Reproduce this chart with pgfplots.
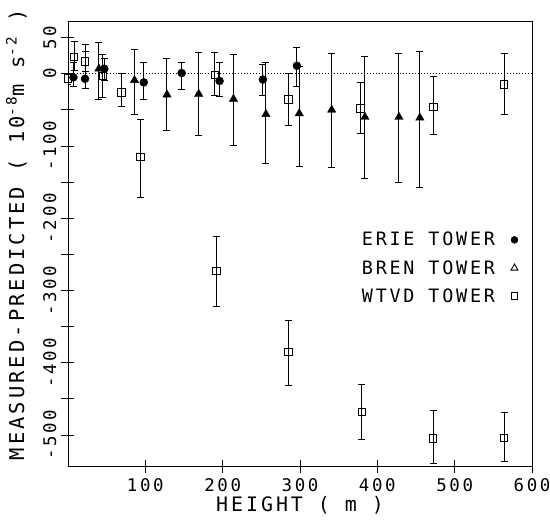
\documentclass[border=0pt]{standalone}
\usepackage{fontspec}
\setmainfont[LetterSpace=15]{DejaVu Sans Mono}
\usepackage{pgfplots}
\pgfplotsset{compat=1.18}
\usetikzlibrary{calc}

% tower residuals: x, y, error plus, error minus
\pgfplotstableread{
x y ep em
7 -5 20 12
22 -7 47 13
47 7 14 16
98 -12 27 23
147 1 15 23
196 -10 26 22
252 -8 21 22
296 11 25 28
}\erie
\pgfplotstableread{
x y ep em
40 7 36 42
86 -9 43 47
128 -29 50 50
169 -28 57 57
214 -35 62 64
256 -56 71 68
299 -55 65 73
341 -50 78 80
384 -60 84 85
428 -60 88 91
455 -61 92 96
}\bren
\pgfplotstableread{
x y ep em
0 -7 8 8
8 23 21 18
22 17 14 14
45 -3 30 30
69 -26 26 20
94 -115 52 56
190 -2 32 28
192 -273 47 49
285 -36 36 36
285 -385 44 46
378 -48 36 35
380 -468 38 39
473 -46 42 38
472 -505 39 35
564 -15 43 41
564 -504 35 33
}\wtvd

\begin{document}
\begin{tikzpicture}
\begin{axis}[
    scale only axis,
    width=464bp, height=445bp,
    xmin=0, xmax=600, ymin=-543, ymax=73,
    xtick={100,200,...,600},
    ytick={-500,-400,-300,-200,-100,0,50},
    yticklabels={-500,-400,-300,-200,-100,0,50},
    minor ytick={-450,-350,-250,-150,-50},
    xtick pos=bottom, ytick pos=left,
    tick align=center,
    major tick length=13bp, minor tick length=13bp,
    tick style={black, line width=0.8pt},
    axis line style={line width=0.6pt},
    /pgf/number format/assume math mode=true,
    ticklabel style={font=\fontsize{17.5}{19}\selectfont},
    yticklabel style={rotate=90, anchor=south, inner xsep=0pt, inner ysep=5bp},
    xticklabel style={inner sep=0pt, yshift=-6bp},
    xlabel={HEIGHT ( m )},
    ylabel={MEASURED-PREDICTED ( 10\textsuperscript{-8}m s\textsuperscript{-2} )},
    xlabel style={font=\fontsize{20}{22}\selectfont, inner sep=0pt, yshift=-4bp},
    ylabel style={font=\fontsize{20.5}{22}\selectfont, inner xsep=0pt, inner ysep=11bp, xshift=9bp},
    legend style={draw=none, fill=none, at={(axis cs:586,-269)}, anchor=east,
        font=\fontsize{18.5}{20}\selectfont, row sep=9bp, column sep=14bp},
    legend plot pos=right,
    legend cell align=right,
    error bars/error bar style={line width=1pt},
    error bars/error mark options={rotate=90, line width=1pt, mark size=3.5bp},
]
\addplot[dotted, line width=1pt, forget plot] coordinates {(0,0)(600,0)};
\addplot[only marks, mark=*, mark size=4bp, black, forget plot,
    error bars/.cd, y dir=both, y explicit]
    table[x=x, y=y, y error plus=ep, y error minus=em] {\erie};
\addplot[only marks, mark=triangle*, mark size=4.8bp, black, forget plot,
    error bars/.cd, y dir=both, y explicit]
    table[x=x, y=y, y error plus=ep, y error minus=em] {\bren};
\addplot[only marks, mark=square, mark size=3.8bp, black, line width=1pt, forget plot,
    error bars/.cd, y dir=both, y explicit]
    table[x=x, y=y, y error plus=ep, y error minus=em] {\wtvd};
\addlegendimage{only marks, mark=*, mark size=3.5bp, black}
\addlegendentry{ERIE TOWER}
\addlegendimage{only marks, mark=triangle, mark size=4bp, black, line width=0.9pt}
\addlegendentry{BREN TOWER}
\addlegendimage{only marks, mark=square, mark size=3.3bp, black, line width=0.9pt}
\addlegendentry{WTVD TOWER}
\end{axis}
\pgfresetboundingbox
\path[use as bounding box] ($(current axis.south west)+(-68bp,-61bp)$)
    rectangle ($(current axis.north east)+(18bp,21bp)$);
\end{tikzpicture}
\end{document}
